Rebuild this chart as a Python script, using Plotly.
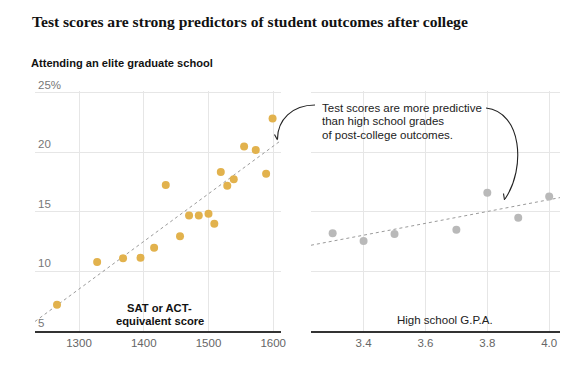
import plotly.graph_objects as go

# ---------------- data ----------------
sat_scores = [1266, 1328, 1368, 1395, 1416, 1434, 1456, 1470, 1485, 1500,
              1509, 1519, 1529, 1539, 1555, 1573, 1589, 1599]
sat_elite_pct = [7.2, 10.8, 11.1, 11.15, 12.0, 17.25, 12.95, 14.7, 14.7, 14.85,
                 14.0, 18.35, 17.2, 17.75, 20.5, 20.2, 18.2, 22.85]
sat_trend_x = [1232, 1612]
sat_trend_y = [5.8, 21.0]

gpa_values = [3.3, 3.4, 3.5, 3.7, 3.8, 3.9, 4.0]
gpa_elite_pct = [13.2, 12.55, 13.15, 13.5, 16.6, 14.5, 16.3]
gpa_trend_x = [3.23, 4.035]
gpa_trend_y = [12.2, 16.2]

y_ticks = [5, 10, 15, 20, 25]
y_ticktext = ["5", "10", "15", "20", "25%"]
sat_ticks = [1300, 1400, 1500, 1600]
gpa_ticks = [3.4, 3.6, 3.8, 4.0]
gpa_ticktext = ["3.4", "3.6", "3.8", "4.0"]

title_text = "Test scores are strong predictors of student outcomes after college"
subtitle_text = "Attending an elite graduate school"
note_lines = ["Test scores are more predictive",
              "than high school grades",
              "of post-college outcomes."]

# ---------------- styling ----------------
# the page body adds an 8px margin, so the figure is 8px smaller each way
PAGE_OFF = 8
PL, PR, PT, PB = 35, 560, 91, 331          # plot area in page pixels
W, H = 574 - PAGE_OFF, 382 - PAGE_OFF
ML, MT = PL - PAGE_OFF, PT - PAGE_OFF
MR, MB = 574 - PR, 382 - PB
PW, PH = PR - PL, PB - PT

GOLD = "#e2b24d"
GREY_PT = "#b9b9b9"
GRID = "#e6e6e6"
SANS = "Liberation Sans, Arial, sans-serif"


def px(x, y):
    """page pixel position -> paper coordinates (for decorations only)"""
    return (x - PL) / PW, (PB - y) / PH


fig = go.Figure()

fig.add_trace(go.Scatter(x=sat_trend_x, y=sat_trend_y, mode="lines",
                         line=dict(color="#9a9a9a", width=1, dash="3px,3px"),
                         xaxis="x", yaxis="y", hoverinfo="skip"))
fig.add_trace(go.Scatter(x=sat_scores, y=sat_elite_pct, mode="markers",
                         marker=dict(color=GOLD, size=8, line=dict(width=0)),
                         xaxis="x", yaxis="y"))
fig.add_trace(go.Scatter(x=gpa_trend_x, y=gpa_trend_y, mode="lines",
                         line=dict(color="#9a9a9a", width=1, dash="3px,3px"),
                         xaxis="x2", yaxis="y2", hoverinfo="skip"))
fig.add_trace(go.Scatter(x=gpa_values, y=gpa_elite_pct, mode="markers",
                         marker=dict(color=GREY_PT, size=8, line=dict(width=0)),
                         xaxis="x2", yaxis="y2"))

xax_common = dict(showgrid=True, gridcolor=GRID, gridwidth=1, zeroline=False,
                  showline=True, linecolor="#333333", linewidth=1.5, ticks="",
                  tickfont=dict(family=SANS, size=11.5, color="#666666"),
                  fixedrange=True)
yax_common = dict(range=[5, 25.15], tickvals=y_ticks, showgrid=True, gridcolor=GRID,
                  gridwidth=1, zeroline=False, showline=False, ticks="",
                  fixedrange=True)

fig.update_layout(
    width=W, height=H, margin=dict(l=ML, r=MR, t=MT, b=MB, autoexpand=False),
    paper_bgcolor="white", plot_bgcolor="white", showlegend=False,
    xaxis=dict(domain=[0, (281 - PL) / PW], range=[1232, 1612], tickvals=sat_ticks,
               anchor="y", **xax_common),
    yaxis=dict(anchor="x", ticktext=y_ticktext, ticklabelposition="inside top",
               ticklabeloverflow="allow",
               tickfont=dict(family=SANS, size=11.5, color="#777777"),
               **yax_common),
    xaxis2=dict(domain=[(311 - PL) / PW, 1], range=[3.23, 4.035], tickvals=gpa_ticks,
                ticktext=gpa_ticktext, anchor="y2", **xax_common),
    yaxis2=dict(anchor="x2", showticklabels=False, **yax_common),
)

ann = []
tx, ty = px(29.5, 22)
ann.append(dict(text="<b>" + title_text + "</b>", x=tx, y=ty, xref="paper", yref="paper",
                xanchor="left", yanchor="middle", showarrow=False,
                font=dict(family="Liberation Serif, Times New Roman, serif", size=15.6,
                          color="#121212")))
sx, sy = px(28.5, 63)
ann.append(dict(text="<b>" + subtitle_text + "</b>", x=sx, y=sy, xref="paper", yref="paper",
                xanchor="left", yanchor="middle", showarrow=False,
                font=dict(family=SANS, size=11.1, color="#121212")))
for i, line in enumerate(note_lines):
    nx, ny = px(320, 107.5 + i * 13.5)
    ann.append(dict(text=line, x=nx, y=ny, xref="paper", yref="paper",
                    xanchor="left", yanchor="middle", showarrow=False,
                    font=dict(family=SANS, size=11.5, color="#222222")))
for i, line in enumerate(["SAT or ACT-", "equivalent score"]):
    ax_, ay_ = px(159.5, 308 + i * 12.7)
    ann.append(dict(text="<b>" + line + "</b>", x=ax_, y=ay_, xref="paper", yref="paper",
                    xanchor="center", yanchor="middle", showarrow=False,
                    font=dict(family=SANS, size=11.2, color="#121212")))
gx, gy = px(444.5, 320)
ann.append(dict(text="High school G.P.A.", x=gx, y=gy, xref="paper", yref="paper",
                xanchor="center", yanchor="middle", showarrow=False,
                font=dict(family=SANS, size=11.5, color="#222222")))
fig.update_layout(annotations=ann)


def path(points_cmds):
    out = []
    for cmd, pts in points_cmds:
        coords = " ".join("%.5f,%.5f" % px(*p) for p in pts)
        out.append(cmd + " " + coords)
    return " ".join(out)


shapes = []
arrow_style = dict(type="path", xref="paper", yref="paper",
                   line=dict(color="#222222", width=1.1))
# left curved arrow
shapes.append(dict(path=path([("M", [(315, 105)]),
                              ("C", [(292, 105), (277.5, 120), (277.5, 139)])]),
                   **arrow_style))
shapes.append(dict(path=path([("M", [(274.5, 134.5)]), ("L", [(277.5, 140), (280.5, 134.5)])]),
                   **arrow_style))
# right curved arrow
shapes.append(dict(path=path([("M", [(486, 108)]),
                              ("C", [(522, 112), (526, 168), (505, 199)])]),
                   **arrow_style))
shapes.append(dict(path=path([("M", [(503.5, 193.5)]), ("L", [(504.5, 200), (510, 196.5)])]),
                   **arrow_style))
fig.update_layout(shapes=shapes)

fig.write_html("out.html")
